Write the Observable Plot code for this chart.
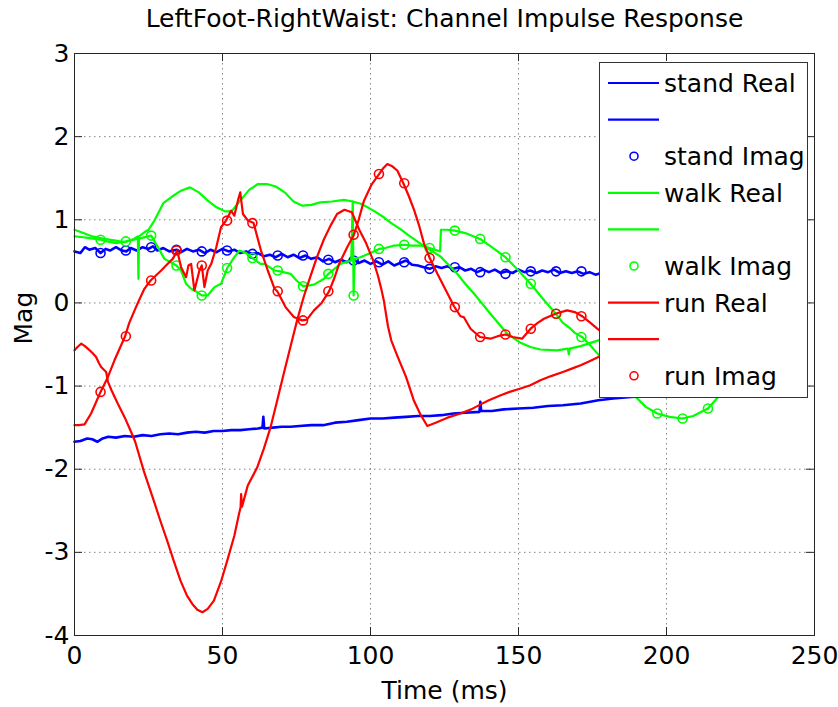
<!DOCTYPE html>
<html>
<head>
<meta charset="utf-8">
<script src="https://cdn.jsdelivr.net/npm/d3@7"></script>
<script src="https://cdn.jsdelivr.net/npm/@observablehq/plot@0.6"></script>
<style>
  html, body { margin: 0; padding: 0; background: #fff; }
  #wrap { position: relative; width: 838px; height: 707px; }
  #legend { position: absolute; left: 599px; top: 62px; width: 209px; height: 336px; box-sizing: border-box;
            border: 1px solid #333; background: #fff; }
  text { font-family: "DejaVu Sans", sans-serif; }
</style>
</head>
<body>
<div id="wrap"></div>
<script>
// ---------- data (time in ms, magnitude) ----------
const titleText = "LeftFoot-RightWaist: Channel Impulse Response";
const xLabel = "Time (ms)";
const yLabel = "Mag";
const xTicks = [0, 50, 100, 150, 200, 250];
const yTicks = [-4, -3, -2, -1, 0, 1, 2, 3];

const standReal = [[0,-1.67],[2,-1.66],[4.3,-1.63],[6,-1.64],[7.7,-1.67],[9.5,-1.63],[11.4,-1.61],[14,-1.62],[17,-1.60],[20,-1.61],[23,-1.59],[26,-1.60],[29,-1.58],[32,-1.57],[35,-1.58],[38,-1.56],[41,-1.55],[44,-1.56],[47,-1.54],[50,-1.54],[53,-1.53],[56,-1.53],[59,-1.52],[62,-1.51],[63.5,-1.50],[63.8,-1.37],[64.1,-1.51],[67,-1.50],[70,-1.49],[73,-1.49],[76,-1.48],[80,-1.47],[84,-1.47],[88,-1.44],[92,-1.43],[96,-1.41],[100,-1.39],[104,-1.39],[108,-1.38],[112,-1.37],[116,-1.36],[120,-1.36],[124,-1.35],[128,-1.33],[132,-1.32],[136.8,-1.31],[137.1,-1.19],[137.4,-1.30],[141,-1.30],[145,-1.28],[150,-1.27],[155,-1.26],[160,-1.24],[165,-1.23],[171,-1.21],[177,-1.17],[182,-1.15],[188,-1.13],[195,-1.12],[203,-1.11],[210,-1.09]];

const standImag = [[0,0.62],[2,0.60],[3.5,0.67],[5,0.64],[7,0.66],[8.8,0.60],[10.5,0.65],[12,0.63],[14,0.67],[16,0.63],[17.5,0.62],[19,0.66],[21,0.63],[23,0.67],[25,0.65],[26.5,0.68],[28,0.63],[30,0.66],[32,0.62],[34.5,0.64],[36,0.61],[38,0.65],[40,0.62],[42,0.64],[44,0.60],[46,0.64],[48,0.61],[50,0.65],[52,0.62],[54,0.64],[56,0.60],[58,0.62],[60,0.59],[62,0.60],[64,0.56],[66,0.58],[68,0.55],[70,0.59],[72,0.55],[74,0.58],[76,0.54],[78,0.57],[80,0.53],[82,0.55],[84,0.50],[86,0.53],[88,0.49],[90,0.52],[92,0.49],[94,0.53],[96,0.48],[98,0.51],[100,0.47],[102,0.50],[104,0.46],[106,0.50],[108,0.45],[110,0.48],[112,0.51],[114,0.46],[116,0.45],[118,0.43],[120,0.41],[122,0.44],[124,0.42],[126,0.44],[128,0.41],[130,0.43],[132,0.39],[134,0.41],[136,0.37],[138,0.40],[140,0.37],[142,0.40],[144,0.36],[146,0.38],[148,0.36],[150,0.40],[152,0.37],[154,0.39],[156,0.36],[158,0.39],[160,0.37],[162,0.40],[164,0.36],[166,0.38],[168,0.36],[170,0.38],[172,0.35],[174,0.37],[176,0.34],[178,0.36],[182,0.34],[186,0.33]];

const walkReal = [[0,0.88],[3,0.84],[6,0.80],[10,0.77],[14,0.75],[17,0.73],[20,0.77],[21.4,0.80],[21.6,0.29],[21.8,0.80],[23.6,0.85],[25,0.88],[27,0.99],[30,1.20],[33,1.28],[36,1.35],[39,1.39],[42,1.33],[45,1.23],[48,1.15],[51,1.10],[53,1.10],[56,1.23],[59,1.36],[62,1.43],[65,1.43],[68,1.40],[71,1.33],[74,1.22],[77,1.17],[80,1.18],[83,1.21],[87,1.22],[91,1.24],[94,1.22],[97,1.19],[101,1.11],[104.5,1.03],[107,0.96],[110,0.89],[113,0.81],[117,0.71],[120,0.64],[123.6,0.56],[126,0.47],[129.3,0.35],[132,0.23],[135,0.11],[140.5,-0.13],[146.2,-0.37],[150.7,-0.48],[154,-0.53],[157.4,-0.56],[163,-0.57],[166.7,-0.55],[167,-0.62],[167.3,-0.55],[171,-0.52],[177,-0.45],[185,-0.38],[195,-0.30]];

const walkImag = [[0,0.80],[3,0.79],[5,0.78],[8.8,0.76],[11,0.74],[14,0.72],[17.35,0.74],[20,0.76],[22.5,0.78],[25.9,0.81],[28.2,0.67],[30.4,0.53],[32.5,0.49],[34.4,0.45],[36,0.39],[37.7,0.23],[39.4,0.17],[41,0.14],[43,0.09],[45,0.09],[47.3,0.19],[49.5,0.23],[51.6,0.42],[54,0.55],[55.7,0.63],[58,0.60],[60.1,0.54],[62.8,0.47],[64.2,0.47],[67.6,0.39],[69.5,0.38],[73,0.35],[75,0.27],[77.2,0.20],[80.9,0.22],[84.3,0.29],[85.8,0.35],[89.9,0.47],[93.5,0.51],[94.0,1.22],[94.3,0.09],[94.6,0.53],[96.6,0.55],[100,0.60],[102.9,0.65],[105,0.66],[108,0.69],[111.4,0.70],[114,0.69],[117,0.69],[120,0.66],[122.6,0.63],[123.5,0.62],[123.8,0.88],[126,0.88],[128.5,0.87],[132,0.84],[137,0.77],[141,0.67],[145.6,0.55],[150,0.39],[154.1,0.23],[158,0.06],[162.6,-0.13],[165,-0.24],[167.6,-0.31],[169,-0.36],[171.5,-0.41],[174,-0.50],[176.7,-0.61],[180,-0.75],[184,-0.92],[189,-1.11],[193,-1.25],[196.9,-1.33],[201,-1.37],[205.4,-1.39],[209,-1.36],[214,-1.27],[218,-1.11],[222,-0.90]];

const runReal = [[0,-0.57],[1,-0.53],[2.3,-0.49],[3.5,-0.52],[4.5,-0.55],[6,-0.60],[7.3,-0.65],[8.2,-0.72],[9,-0.77],[10.7,-0.83],[11.3,-0.95],[12.5,-1.05],[14.6,-1.21],[17,-1.38],[19.1,-1.55],[20.5,-1.67],[23.4,-2.02],[26.8,-2.38],[29,-2.62],[31.3,-2.86],[33.5,-3.10],[35.8,-3.34],[38,-3.52],[39.8,-3.62],[41.5,-3.69],[43.2,-3.72],[45,-3.68],[47.1,-3.58],[49.5,-3.35],[51.6,-3.10],[54,-2.80],[55.5,-2.55],[56.1,-2.46],[56.3,-2.30],[56.6,-2.45],[58.5,-2.20],[61.7,-1.98],[64,-1.75],[66.2,-1.50],[68.5,-1.17],[70.7,-0.85],[73,-0.52],[75.2,-0.21],[77.5,0.08],[79.7,0.32],[82,0.56],[84.2,0.76],[86.5,0.93],[88.7,1.07],[91.2,1.12],[93.7,1.09],[96.2,0.88],[98.5,0.72],[100.8,0.52],[102.5,0.33],[103.7,0.16],[104.5,0.03],[105.9,-0.28],[107,-0.45],[109.2,-0.65],[112,-0.89],[114.6,-1.17],[117,-1.35],[119.2,-1.48],[122,-1.44],[126,-1.38],[130.4,-1.33],[134,-1.28],[137.2,-1.22],[140,-1.17],[144,-1.11],[147,-1.07],[150.7,-1.03],[154,-0.99],[157.4,-0.93],[161,-0.88],[165,-0.83],[168,-0.79],[171,-0.75],[174,-0.70],[177,-0.65],[185,-0.55],[195,-0.45]];

const runImag = [[0,-1.47],[1.5,-1.47],[3.4,-1.46],[5.6,-1.33],[7.2,-1.20],[8.8,-1.07],[11.3,-0.89],[13.5,-0.69],[15,-0.57],[17.1,-0.40],[18.5,-0.24],[20.3,-0.09],[21.4,0.00],[23.6,0.17],[25.7,0.27],[27.5,0.33],[29.3,0.39],[31.5,0.47],[33.2,0.53],[34.7,0.63],[36,0.43],[37.7,0.31],[38.5,0.45],[39.4,0.47],[40.5,0.15],[42.2,0.39],[43,0.45],[43.9,0.19],[45,0.39],[46.2,0.47],[47.9,0.67],[49.5,0.91],[51.2,0.99],[52.9,1.11],[54,1.05],[55.2,1.23],[56,1.33],[56.9,1.07],[58.6,0.99],[60.5,0.96],[63,0.63],[65.3,0.39],[67.6,0.17],[68.5,0.14],[71.3,-0.05],[74.1,-0.17],[76.9,-0.21],[78.5,-0.20],[80.9,-0.09],[83.5,0.00],[86,0.14],[87.8,0.30],[89.4,0.47],[92,0.66],[94.4,0.82],[96,1.00],[97.8,1.23],[100.3,1.42],[102.9,1.55],[104.3,1.62],[105.7,1.67],[107.5,1.64],[109.1,1.59],[111.1,1.44],[113,1.28],[114.8,1.11],[116.5,0.92],[118.1,0.71],[120,0.54],[122.6,0.35],[125.5,0.15],[128.2,-0.04],[130.4,-0.16],[131.5,-0.17],[133.8,-0.31],[137,-0.41],[140.5,-0.43],[143,-0.40],[145.6,-0.38],[148,-0.41],[151.2,-0.43],[154.1,-0.31],[156.5,-0.24],[158.6,-0.19],[162.5,-0.13],[166.4,-0.09],[169,-0.11],[171.5,-0.16],[174,-0.23],[176.6,-0.31],[180,-0.40],[184,-0.50]];

// circle markers on the imaginary parts
const markerT = [8.8,17.35,25.9,34.45,43.0,51.55,60.1,68.65,77.2,85.75,94.3,102.85,111.4,119.95,128.5,137.05,145.6,154.15,162.7,171.25,179.8,188.35,196.9,205.45,214.0];
const standImagMarks = [0.60,0.63,0.67,0.64,0.62,0.63,0.59,0.57,0.57,0.52,0.51,0.49,0.49,0.41,0.43,0.37,0.35,0.38,0.38,0.38];
const walkImagMarks = [0.76,0.74,0.81,0.45,0.09,0.42,0.54,0.39,0.20,0.35,0.09,0.65,0.70,0.66,0.87,0.77,0.55,0.23,-0.13,-0.41,-0.76,-1.08,-1.33,-1.39,-1.27];
const runImagMarks = [-1.07,-0.40,0.27,0.63,0.45,0.99,0.96,0.14,-0.21,0.14,0.82,1.55,1.44,0.54,-0.05,-0.41,-0.38,-0.31,-0.13,-0.16];

const blue = "#0000ff", green = "#00ff00", red = "#ff0000";
const legendLabels = ["stand Real", "", "stand Imag", "walk Real", "", "walk Imag", "run Real", "", "run Imag"];
const legendKinds = ["line", "line", "dot", "line", "line", "dot", "line", "line", "dot"];
const legendColors = [blue, blue, blue, green, green, green, red, red, red];

// ---------- chart ----------
const marks = (vals) => vals.map((v, i) => ({t: markerT[i], v}));
const lineOpts = (color, w) => ({x: d => d[0], y: d => d[1], stroke: color, strokeWidth: w, strokeLinejoin: "round"});
const dotOpts = (color) => ({x: "t", y: "v", r: 4.5, stroke: color, strokeWidth: 1.6, fill: "none"});
const fmt = d => String(d);
const FS = 25;

const chart = Plot.plot({
  width: 838, height: 707,
  marginLeft: 74, marginRight: 24, marginTop: 53, marginBottom: 72,
  x: {domain: [0, 250]},
  y: {domain: [-4, 3]},
  style: {fontFamily: "'DejaVu Sans', sans-serif", fontSize: FS + "px", background: "#fff", color: "#000", overflow: "visible"},
  marks: [
    Plot.gridX(xTicks.slice(1, -1), {stroke: "#666", strokeOpacity: 0.8, strokeDasharray: "1.5,3.5"}),
    Plot.gridY(yTicks.slice(1, -1), {stroke: "#666", strokeOpacity: 0.8, strokeDasharray: "1.5,3.5"}),
    Plot.line(standReal, lineOpts(blue, 2.6)),
    Plot.line(standImag, lineOpts(blue, 2.6)),
    Plot.dot(marks(standImagMarks), dotOpts(blue)),
    Plot.line(walkReal, lineOpts(green, 2.2)),
    Plot.line(walkImag, lineOpts(green, 2.2)),
    Plot.dot(marks(walkImagMarks), dotOpts(green)),
    Plot.line(runReal, lineOpts(red, 2.2)),
    Plot.line(runImag, lineOpts(red, 2.2)),
    Plot.dot(marks(runImagMarks), dotOpts(red)),
    Plot.frame({stroke: "#262626", strokeWidth: 1}),
    Plot.ruleX(xTicks, {insetTop: 574, stroke: "#262626"}),
    Plot.ruleX(xTicks, {insetBottom: 574, stroke: "#262626"}),
    Plot.ruleY(yTicks, {insetRight: 732, stroke: "#262626"}),
    Plot.ruleY(yTicks, {insetLeft: 732, stroke: "#262626"}),
    Plot.axisX(xTicks, {tickSize: 0, tickPadding: 11, tickFormat: fmt, label: null, fontSize: FS}),
    Plot.axisY(yTicks, {tickSize: 0, tickPadding: 5, tickFormat: fmt, label: null, fontSize: FS}),
    Plot.text([xLabel], {frameAnchor: "bottom", lineAnchor: "middle", dy: 55, text: d => d, fontSize: FS}),
    Plot.text([yLabel], {frameAnchor: "left", lineAnchor: "middle", dx: -51, rotate: -90, text: d => d, fontSize: FS}),
    Plot.text([titleText], {frameAnchor: "top", lineAnchor: "middle", dy: -35, text: d => d, fontSize: FS})
  ]
});

const wrap = document.getElementById("wrap");
wrap.appendChild(chart);

// ---------- legend (MATLAB-style box inside the axes) ----------
const legend = document.createElement("div");
legend.id = "legend";
const ns = "http://www.w3.org/2000/svg";
const lsvg = document.createElementNS(ns, "svg");
lsvg.setAttribute("width", 207); lsvg.setAttribute("height", 334);
legendLabels.forEach((lab, i) => {
  const cy = 20 + i * 36.6;
  if (legendKinds[i] === "line") {
    const l = document.createElementNS(ns, "line");
    l.setAttribute("x1", 8); l.setAttribute("x2", 59);
    l.setAttribute("y1", cy); l.setAttribute("y2", cy);
    l.setAttribute("stroke", legendColors[i]); l.setAttribute("stroke-width", 2.2);
    lsvg.appendChild(l);
  } else {
    const c = document.createElementNS(ns, "circle");
    c.setAttribute("cx", 34); c.setAttribute("cy", cy); c.setAttribute("r", 4);
    c.setAttribute("fill", "none"); c.setAttribute("stroke", legendColors[i]); c.setAttribute("stroke-width", 1.6);
    lsvg.appendChild(c);
  }
  if (lab) {
    const t = document.createElementNS(ns, "text");
    t.setAttribute("x", 64); t.setAttribute("y", cy);
    t.setAttribute("dy", "0.36em");
    t.setAttribute("font-size", FS);
    t.textContent = lab;
    lsvg.appendChild(t);
  }
});
legend.appendChild(lsvg);
wrap.appendChild(legend);
</script>
</body>
</html>
